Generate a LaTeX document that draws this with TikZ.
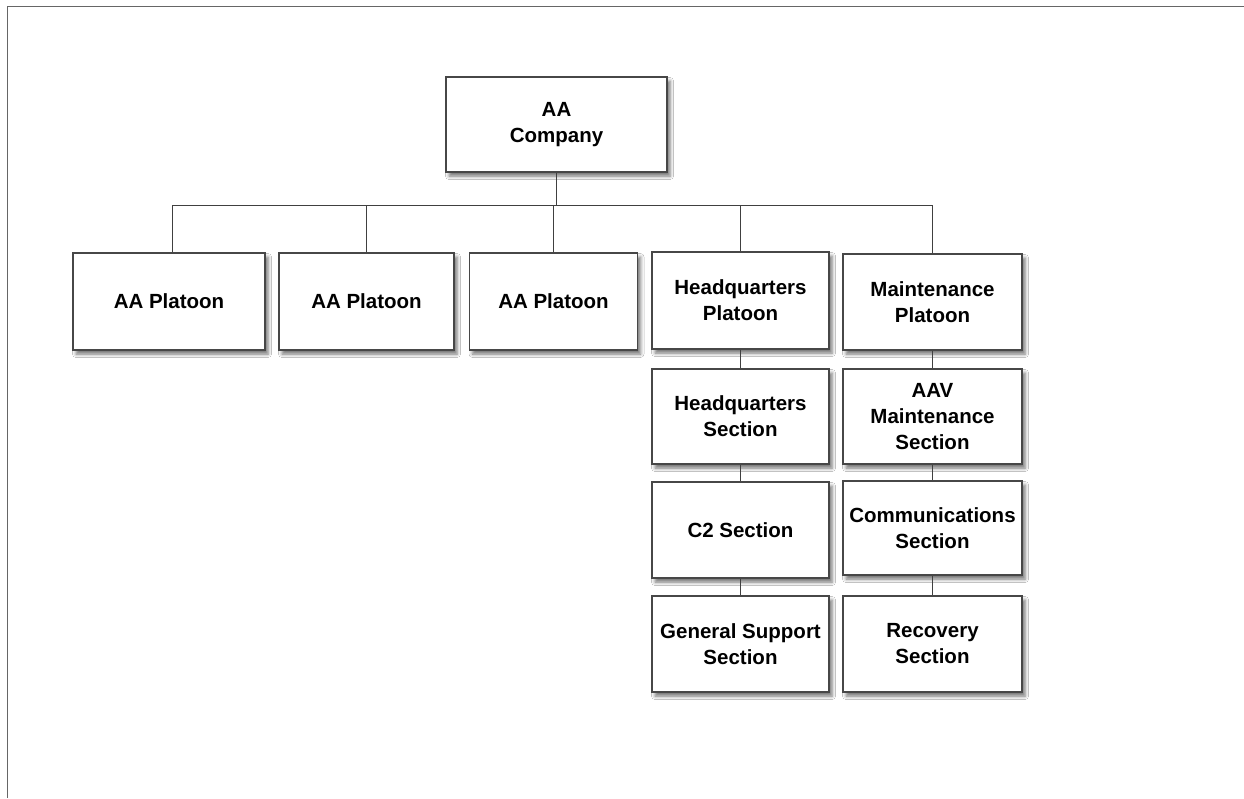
\documentclass[tikz,border=0pt]{standalone}
\usepackage{fontspec}
\setmainfont{Liberation Sans}
\usetikzlibrary{shadows.blur}
\begin{document}
\begin{tikzpicture}[x=1pt,y=-1pt,
  orgbox/.style={draw=black!72, line width=1.4pt, fill=white, align=center,
    inner sep=0pt, font=\fontsize{20.5}{26}\selectfont\bfseries,
    blur shadow={shadow xshift=3pt, shadow yshift=-4pt, shadow blur radius=3.5pt, shadow opacity=55}},
  link/.style={draw=black!75, line width=1.1pt}]
\useasboundingbox (0,0) rectangle (1244,798);
\fill[white] (0,0) rectangle (1244,798);
\draw[black!60, line width=1.8pt] (7.5,798) -- (7.5,6.5) -- (1244,6.5);
% boxes
\node[orgbox, minimum width=221, minimum height=95] (co) at (556.5,124.5) {AA\\Company};
\node[orgbox, minimum width=192, minimum height=97] (p1) at (169,301.5) {AA Platoon};
\node[orgbox, minimum width=175, minimum height=97] (p2) at (366.5,301.5) {AA Platoon};
\node[orgbox, minimum width=168, minimum height=97] (p3) at (553.5,301.5) {AA Platoon};
\node[orgbox, minimum width=177, minimum height=97] (hq) at (740.5,300.5) {Headquarters\\Platoon};
\node[orgbox, minimum width=179, minimum height=96] (mt) at (932.5,302) {Maintenance\\Platoon};
\node[orgbox, minimum width=177, minimum height=95] (hqs) at (740.5,416.5) {Headquarters\\Section};
\node[orgbox, minimum width=177, minimum height=96] (c2) at (740.5,530) {C2 Section};
\node[orgbox, minimum width=177, minimum height=96] (gs) at (740.5,644) {General Support\\Section};
\node[orgbox, minimum width=179, minimum height=95] (aav) at (932.5,416.5) {AAV\\Maintenance\\Section};
\node[orgbox, minimum width=179, minimum height=94] (com) at (932.5,528) {Communications\\Section};
\node[orgbox, minimum width=179, minimum height=96] (rec) at (932.5,644) {Recovery\\Section};
% connectors
\coordinate (bus) at (0,205.5);
\draw[link] (co.south) -- (co.south |- bus);
\draw[link] ([xshift=3.5pt]p1.north) -- ([xshift=3.5pt]p1.north |- bus) -- (mt.north |- bus) -- (mt.north);
\draw[link] (p2.north) -- (p2.north |- bus);
\draw[link] (p3.north) -- (p3.north |- bus);
\draw[link] (hq.north) -- (hq.north |- bus);
\draw[link] (hq.south) -- (hqs.north);
\draw[link] (hqs.south) -- (c2.north);
\draw[link] (c2.south) -- (gs.north);
\draw[link] (mt.south) -- (aav.north);
\draw[link] (aav.south) -- (com.north);
\draw[link] (com.south) -- (rec.north);
\end{tikzpicture}
\end{document}
